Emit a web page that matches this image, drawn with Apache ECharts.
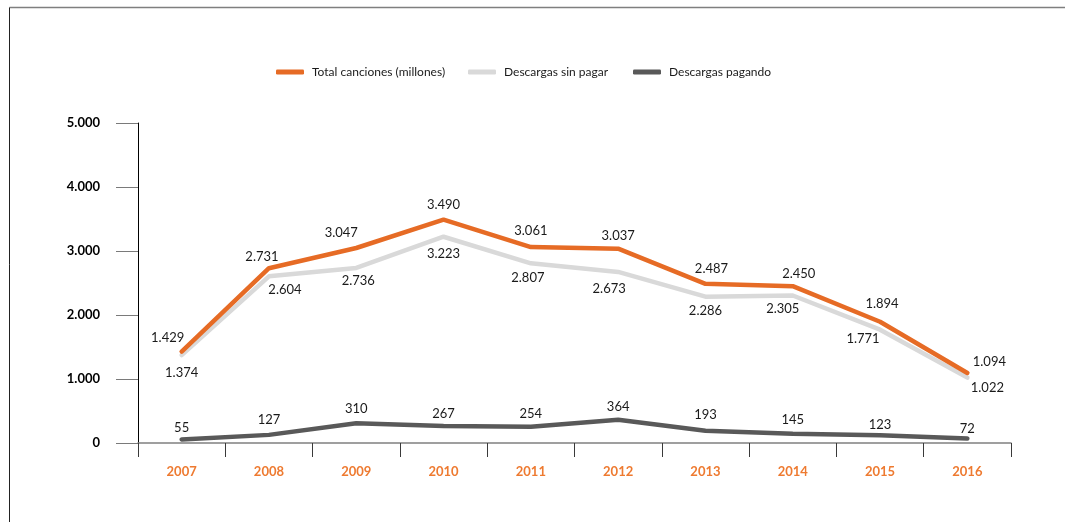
<!DOCTYPE html>
<html><head><meta charset="utf-8">
<script src="https://cdn.jsdelivr.net/npm/echarts@6/dist/echarts.min.js"></script>
<style>html,body{margin:0;padding:0;background:#fff}#c{width:1065px;height:522px}</style>
</head><body><div id="c"></div>
<script>
const years = ['2007','2008','2009','2010','2011','2012','2013','2014','2015','2016'];
const totalCanciones = [1429, 2731, 3047, 3490, 3061, 3037, 2487, 2450, 1894, 1094];
const sinPagar = [1374, 2604, 2736, 3223, 2807, 2673, 2286, 2305, 1771, 1022];
const pagando = [55, 127, 310, 267, 254, 364, 193, 145, 123, 72];
const yTicks = [0, 1000, 2000, 3000, 4000, 5000];
const seriesNames = ['Total canciones (millones)', 'Descargas sin pagar', 'Descargas pagando'];

// label offsets (label placement only)
const totalOff = [[-14,-14],[-7,-11],[-15,-15],[0,-15],[0,-16],[0,-13],[6,-15],[6,-12],[2,-18],[22,-11]];
const sinOff = [[0,18],[16,13],[2,13],[0,17],[-3,14],[-9,17],[0,14],[-10,13],[-17,9],[20,10]];
const pagOff = [[0,-12],[0,-15],[0,-14],[0,-12],[0,-13],[0,-13],[0,-16],[0,-14],[0,-10],[0,-10]];

const FONT = 'Lato, "Open Sans", sans-serif';
const fmt = v => String(v).replace(/\B(?=(\d{3})+(?!\d))/g, '.');

function mk(name, vals, offs, color, z) {
  return {
    name, type: 'line', data: vals.map((v, i) => ({
      value: v,
      label: { offset: offs[i] }
    })),
    z,
    symbol: 'circle', symbolSize: 1, showSymbol: true,
    itemStyle: { color },
    lineStyle: { color, width: 4.5, cap: 'round' },
    label: {
      show: true, position: 'inside', color: '#1a1a1a', fontFamily: FONT, fontSize: 13,
      formatter: p => fmt(p.value)
    },
    emphasis: { disabled: true },
    animation: false
  };
}

const colors = ['#E66B25', '#D9D9D9', '#595959'];
const legendLefts = [276, 468, 633];

const chart = echarts.init(document.getElementById('c'), null, { renderer: 'canvas' });
chart.setOption({
  backgroundColor: '#fff',
  animation: false,
  legend: seriesNames.map((n, i) => ({
    data: [{ name: n, icon: 'roundRect', itemStyle: { color: colors[i] } }],
    left: legendLefts[i], top: 66, padding: 0,
    itemWidth: 28, itemHeight: 5, itemGap: 0,
    selectedMode: false,
    textStyle: { fontFamily: FONT, fontSize: 12, color: '#1a1a1a', padding: [0, 0, 0, 3] }
  })),
  grid: { left: 138, right: 54, top: 123, bottom: 79, containLabel: false },
  xAxis: {
    type: 'category', data: years, boundaryGap: true,
    axisLine: { show: true, lineStyle: { color: '#808080', width: 1.5 } },
    axisTick: { show: true, length: 14, inside: false, lineStyle: { color: '#3a3a3a', width: 1 } },
    axisLabel: { color: '#EE7A30', fontFamily: FONT, fontSize: 13, fontWeight: 'bold', margin: 22 },
    splitLine: { show: false }
  },
  yAxis: {
    type: 'value', min: yTicks[0], max: yTicks[yTicks.length - 1], interval: 1000,
    axisLine: { show: true, lineStyle: { color: '#000', width: 1 } },
    axisTick: { show: true, length: 22, lineStyle: { color: '#7a7a7a', width: 1 } },
    axisLabel: { color: '#000', fontFamily: FONT, fontSize: 13, fontWeight: 'bold', margin: 38, formatter: fmt },
    splitLine: { show: false }
  },
  graphic: [
    { type: 'line', shape: { x1: 9.5, y1: 7.5, x2: 1065, y2: 7.5 }, style: { stroke: '#7f7f7f', lineWidth: 1.5 } },
    { type: 'line', shape: { x1: 9.5, y1: 7.5, x2: 9.5, y2: 522 }, style: { stroke: '#222', lineWidth: 1 } }
  ],
  series: [
    mk(seriesNames[0], totalCanciones, totalOff, colors[0], 4),
    mk(seriesNames[1], sinPagar, sinOff, colors[1], 3),
    mk(seriesNames[2], pagando, pagOff, colors[2], 3)
  ]
});
</script></body></html>
